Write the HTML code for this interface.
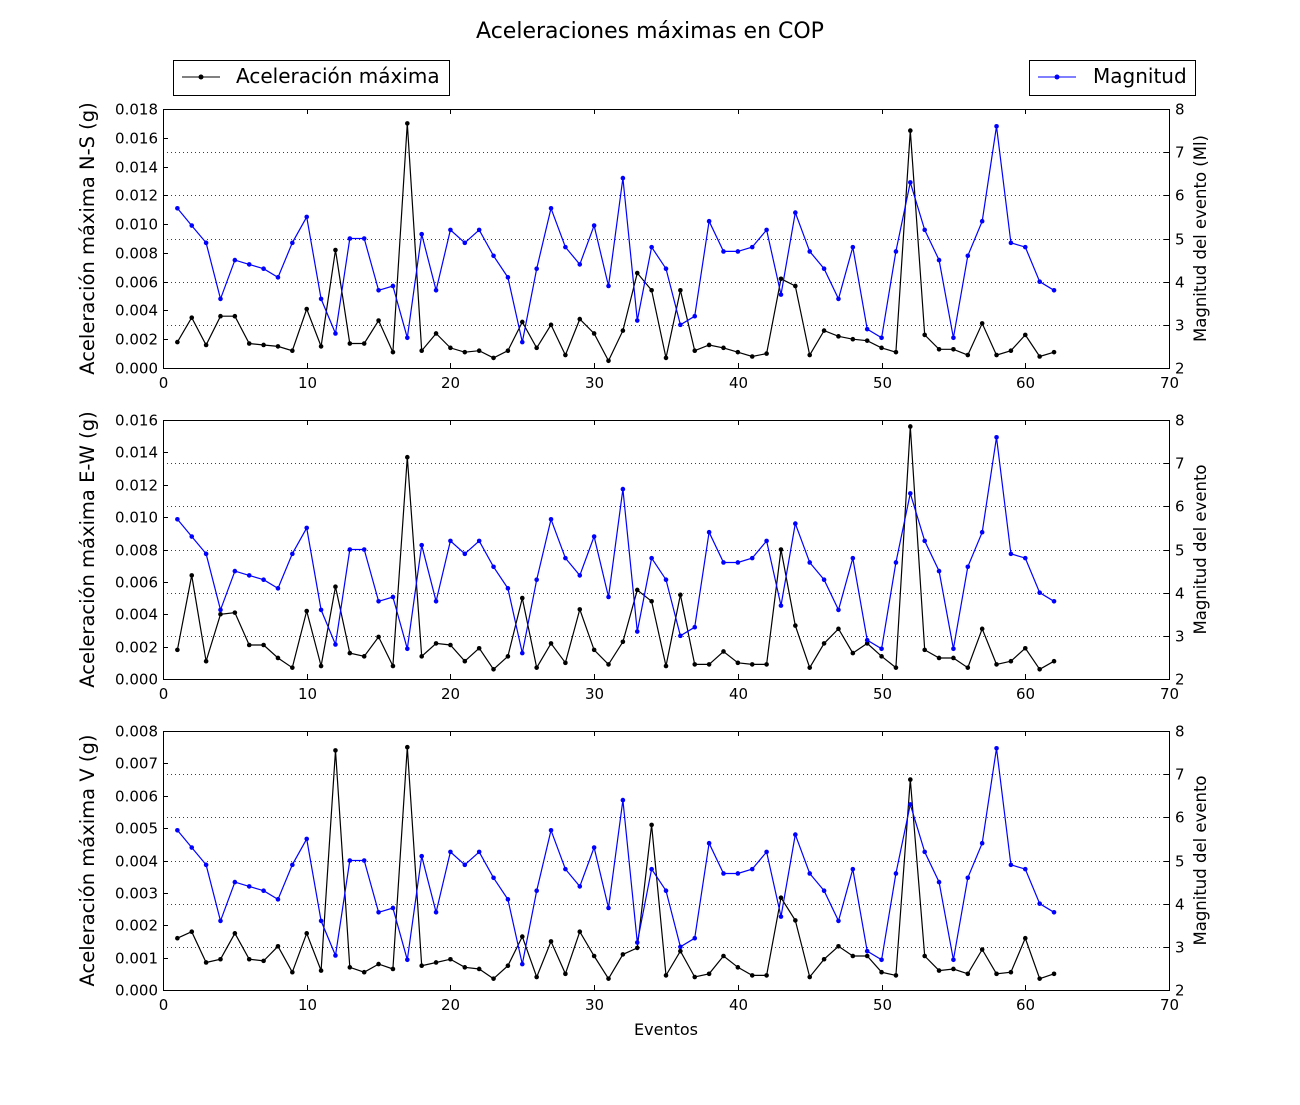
<!DOCTYPE html>
<html><head><meta charset="utf-8"><style>
body{margin:0;background:#fff;}
svg text{font-family:"DejaVu Sans","Liberation Sans",sans-serif;}
</style></head><body>
<svg id="chart" width="1300" height="1100" xmlns="http://www.w3.org/2000/svg"></svg>
<script>
const eventos = Array.from({length:62},(_,i)=>i+1);
const magnitud = [5.7,5.3,4.9,3.6,4.5,4.4,4.3,4.1,4.9,5.5,3.6,2.8,5.0,5.0,3.8,3.9,2.7,5.1,3.8,5.2,4.9,5.2,4.6,4.1,2.6,4.3,5.7,4.8,4.4,5.3,3.9,6.4,3.1,4.8,4.3,3.0,3.2,5.4,4.7,4.7,4.8,5.2,3.7,5.6,4.7,4.3,3.6,4.8,2.9,2.7,4.7,6.3,5.2,4.5,2.7,4.6,5.4,7.6,4.9,4.8,4.0,3.8];
const accNS = [0.0018,0.0035,0.0016,0.0036,0.0036,0.0017,0.0016,0.0015,0.0012,0.0041,0.0015,0.0082,0.0017,0.0017,0.0033,0.0011,0.0170,0.0012,0.0024,0.0014,0.0011,0.0012,0.0007,0.0012,0.0032,0.0014,0.0030,0.0009,0.0034,0.0024,0.0005,0.0026,0.0066,0.0054,0.0007,0.0054,0.0012,0.0016,0.0014,0.0011,0.0008,0.0010,0.0062,0.0057,0.0009,0.0026,0.0022,0.0020,0.0019,0.0014,0.0011,0.0165,0.0023,0.0013,0.0013,0.0009,0.0031,0.0009,0.0012,0.0023,0.0008,0.0011];
const accEW = [0.0018,0.0064,0.0011,0.0040,0.0041,0.0021,0.0021,0.0013,0.0007,0.0042,0.0008,0.0057,0.0016,0.0014,0.0026,0.0008,0.0137,0.0014,0.0022,0.0021,0.0011,0.0019,0.0006,0.0014,0.0050,0.0007,0.0022,0.0010,0.0043,0.0018,0.0009,0.0023,0.0055,0.0048,0.0008,0.0052,0.0009,0.0009,0.0017,0.0010,0.0009,0.0009,0.0080,0.0033,0.0007,0.0022,0.0031,0.0016,0.0022,0.0014,0.0007,0.0156,0.0018,0.0013,0.0013,0.0007,0.0031,0.0009,0.0011,0.0019,0.0006,0.0011];
const accV = [0.0016,0.0018,0.00085,0.00095,0.00175,0.00095,0.0009,0.00135,0.00055,0.00175,0.0006,0.0074,0.0007,0.00055,0.0008,0.00065,0.0075,0.00075,0.00085,0.00095,0.0007,0.00065,0.00035,0.00075,0.00165,0.0004,0.0015,0.0005,0.0018,0.00105,0.00035,0.0011,0.0013,0.0051,0.00045,0.0012,0.0004,0.0005,0.00105,0.0007,0.00045,0.00045,0.00285,0.00215,0.0004,0.00095,0.00135,0.00105,0.00105,0.00055,0.00045,0.0065,0.00105,0.0006,0.00065,0.0005,0.00125,0.0005,0.00055,0.0016,0.00035,0.0005];
const xTicks = [0,10,20,30,40,50,60,70];
const rTicks = [2,3,4,5,6,7,8];
const ticksNS = [0,0.002,0.004,0.006,0.008,0.010,0.012,0.014,0.016,0.018];
const ticksEW = [0,0.002,0.004,0.006,0.008,0.010,0.012,0.014,0.016];
const ticksV = [0,0.001,0.002,0.003,0.004,0.005,0.006,0.007,0.008];

const svg = document.getElementById('chart');
const NS='http://www.w3.org/2000/svg';
function el(tag, attrs, parent){const e=document.createElementNS(NS,tag);for(const k in attrs)e.setAttribute(k,attrs[k]);(parent||svg).appendChild(e);return e;}

const X0=163,X1=1169;
const xs = v => X0 + v/70*(X1-X0);

let t = el('text',{x:650,y:38,'text-anchor':'middle','font-size':22});
t.textContent='Aceleraciones máximas en COP';



let lg1 = el('g',{});


el('rect',{x:173.5,y:60.5,width:276,height:35,fill:'#fff',stroke:'#000'},lg1);
el('line',{x1:182,y1:77,x2:220,y2:77,stroke:'#000'},lg1);
el('circle',{cx:201,cy:77,r:2.5,fill:'#000'},lg1);
let lt1=el('text',{x:236,y:83,'font-size':20},lg1); lt1.textContent='Aceleración máxima';
let lg2 = el('g',{});


el('rect',{x:1029.5,y:60.5,width:166,height:35,fill:'#fff',stroke:'#000'},lg2);
el('line',{x1:1038,y1:77,x2:1076,y2:77,stroke:'#00f'},lg2);
el('circle',{cx:1057,cy:77,r:2.5,fill:'#00f'},lg2);
let lt2=el('text',{x:1093,y:83,'font-size':20},lg2); lt2.textContent='Magnitud';

const panels = [
 {top:109,bot:368,max:0.018,ticks:ticksNS,data:accNS,dec:3,label:'Aceleración máxima N-S (g)',rlabel:'Magnitud del evento (Ml)',name:'ns'},
 {top:420,bot:679,max:0.016,ticks:ticksEW,data:accEW,dec:3,label:'Aceleración máxima E-W (g)',rlabel:'Magnitud del evento',name:'ew'},
 {top:731,bot:990,max:0.008,ticks:ticksV,data:accV,dec:3,label:'Aceleración máxima V (g)',rlabel:'Magnitud del evento',name:'v'}
];

panels.forEach((p,pi)=>{
  const g = el('g',{});
  
  
  const ys = v => p.bot - v/p.max*(p.bot-p.top);
  const yr = v => p.bot - (v-2)/6*(p.bot-p.top);
  rTicks.forEach(v=>{ if(v>2&&v<8){ const y=Math.round(yr(v))+0.5;
    el('line',{x1:X0,x2:X1,y1:y,y2:y,stroke:'#000','stroke-width':0.8,'stroke-dasharray':'1,3'},g);}});
  const bp = p.data.map((v,i)=>xs(eventos[i]).toFixed(1)+','+ys(v).toFixed(1)).join(' ');
  const bl = el('polyline',{points:bp,fill:'none',stroke:'#000','stroke-width':1.2},g);
  
  
  p.data.forEach((v,i)=>el('circle',{cx:xs(eventos[i]),cy:ys(v),r:2.3,fill:'#000'},g));
  const mp = magnitud.map((v,i)=>xs(eventos[i]).toFixed(1)+','+yr(v).toFixed(1)).join(' ');
  const ml = el('polyline',{points:mp,fill:'none',stroke:'#00f','stroke-width':1.2},g);
  
  
  magnitud.forEach((v,i)=>el('circle',{cx:xs(eventos[i]),cy:yr(v),r:2.3,fill:'#00f'},g));
  el('rect',{x:X0+0.5,y:p.top+0.5,width:X1-X0,height:p.bot-p.top,fill:'none',stroke:'#000','stroke-width':1},g);
  xTicks.forEach(v=>{const x=Math.round(xs(v))+0.5;
    el('line',{x1:x,x2:x,y1:p.bot,y2:p.bot-5,stroke:'#000'},g);
    el('line',{x1:x,x2:x,y1:p.top,y2:p.top+5,stroke:'#000'},g);
    const tx=el('text',{x:x,y:p.bot+20,'text-anchor':'middle','font-size':15},g); tx.textContent=v;});
  p.ticks.forEach(v=>{const y=Math.round(ys(v))+0.5;
    el('line',{x1:X0,x2:X0+5,y1:y,y2:y,stroke:'#000'},g);
    const tx=el('text',{x:X0-5,y:y+5,'text-anchor':'end','font-size':15},g); tx.textContent=v.toFixed(p.dec);});
  rTicks.forEach(v=>{const y=Math.round(yr(v))+0.5;
    el('line',{x1:X1-5,x2:X1,y1:y,y2:y,stroke:'#000'},g);
    const tx=el('text',{x:X1+6,y:y+5,'font-size':15},g); tx.textContent=v;});
  const cy=(p.top+p.bot)/2;
  const yl=el('text',{x:94,y:cy,'text-anchor':'middle','font-size':19.5,transform:'rotate(-90 94 '+cy+')'},g);
  yl.textContent=p.label;
  
  
  const rl=el('text',{x:1206,y:cy,'text-anchor':'middle','font-size':16.5,transform:'rotate(-90 1206 '+cy+')'},g);
  rl.textContent=p.rlabel;
  
  
});
const xl=el('text',{x:666,y:1035,'text-anchor':'middle','font-size':16});
xl.textContent='Eventos';


</script>
</body></html>
